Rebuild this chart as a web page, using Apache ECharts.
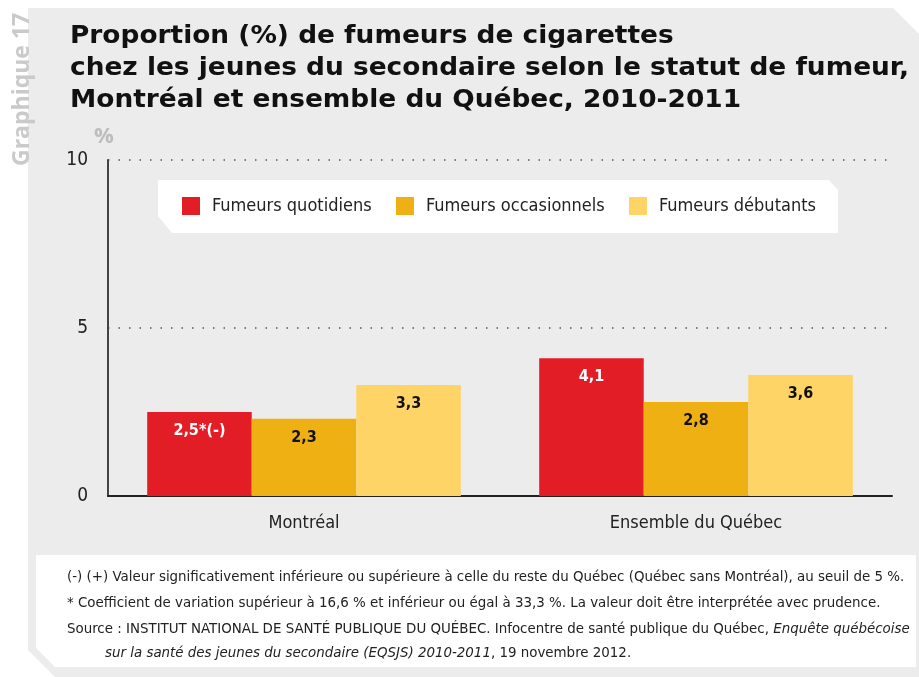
<!DOCTYPE html>
<html lang="fr">
<head>
    <meta charset="UTF-8">
    <title>Graphique 17</title>
    <script src="https://cdn.jsdelivr.net/npm/echarts@6/dist/echarts.min.js"></script>
    <style>
        html, body { margin: 0; padding: 0; background: #fff; }
        #chart { width: 919px; height: 677px; }
    </style>
</head>
<body>
<div id="chart"></div>
<script type="text/javascript">
	// données
	var categories = ['Montréal', 'Ensemble du Québec'];
	var seriesNames = ['Fumeurs quotidiens', 'Fumeurs occasionnels', 'Fumeurs débutants'];
	var quotidiens = [2.5, 4.1];
	var occasionnels = [2.3, 2.8];
	var debutants = [3.3, 3.6];
	var quotidiensNotes = ['*(-)', ''];
	var yTicks = [0, 5, 10];

	var condensed = "'Liberation Sans Narrow', 'DejaVu Sans Condensed', 'Roboto Condensed', sans-serif";
	var couleurs = ['#e31d25', '#eeb013', '#fed466'];
	var legendLeft = [182, 396, 629];

	var chart = echarts.init(document.getElementById('chart'));

	function fmt(v) {
		return v.toFixed(1).replace('.', ',');
	}

	function barSeries(i, data, notes, labelColor) {
		return {
			name: seriesNames[i],
			type: 'bar',
			data: data,
			barGap: '0%',
			barCategoryGap: '20%',
			itemStyle: {color: couleurs[i]},
			label: {
				show: true,
				position: 'insideTop',
				distance: 11,
				color: labelColor,
				fontFamily: "'DejaVu Sans Condensed', 'Liberation Sans Narrow', sans-serif",
				fontWeight: 'bold',
				fontSize: 16,
				formatter: function (p) {
					return fmt(p.value) + (notes ? notes[p.dataIndex] : '');
				}
			}
		};
	}

	// une légende par série pour placer chaque élément
	var legends = [];
	for (var k = 0; k < seriesNames.length; k++) {
		legends.push({
			data: [seriesNames[k]],
			left: legendLeft[k],
			top: 197,
			padding: 0,
			icon: 'rect',
			itemWidth: 18,
			itemHeight: 18,
			selectedMode: false,
			textStyle: {fontFamily: condensed, fontSize: 18, color: '#222', padding: [0, 0, 0, 7]}
		});
	}

	var footStyle = {fontFamily: condensed, fontSize: 14.9, fill: '#222'};
	var italique = {i: {fontStyle: 'italic', fontFamily: condensed, fontSize: 14.9, fill: '#222'}};

	var option = {
		backgroundColor: '#fff',
		animation: false,
		color: couleurs,
		grid: {left: 108, top: 160, right: 27, bottom: 181},
		legend: legends,
		xAxis: {
			type: 'category',
			data: categories,
			axisLine: {lineStyle: {color: '#222', width: 2}},
			axisTick: {show: false},
			axisLabel: {fontFamily: condensed, fontSize: 18, color: '#222', margin: 18}
		},
		yAxis: {
			type: 'value',
			min: yTicks[0],
			max: yTicks[yTicks.length - 1],
			interval: 5,
			axisLine: {show: true, lineStyle: {color: '#444', width: 2}},
			axisTick: {show: false},
			axisLabel: {fontFamily: condensed, fontSize: 19, color: '#222', margin: 20},
			splitLine: {lineStyle: {color: '#555', type: [1.5, 9], width: 1.5}}
		},
		graphic: [
			// fond gris
			{
				type: 'polygon', z: -10, silent: true,
				shape: {points: [[28, 8], [893, 8], [919, 34], [919, 677], [55, 677], [28, 650]]},
				style: {fill: '#ececec'}
			},
			// boîte des notes
			{
				type: 'polygon', z: -9, silent: true,
				shape: {points: [[36, 555], [916, 555], [916, 667], [55, 667], [36, 648]]},
				style: {fill: '#fff'}
			},
			// boîte de légende
			{
				type: 'polygon', z: -9, silent: true,
				shape: {points: [[158, 180], [829, 180], [838, 190], [838, 233], [172, 233], [158, 216]]},
				style: {fill: '#fff'}
			},
			{
				type: 'text', silent: true, rotation: Math.PI / 2,
				x: 11, y: 166,
				style: {text: 'Graphique 17', fontFamily: "'Open Sans', sans-serif", fontWeight: 'bold', fontSize: 23, fill: '#cacaca'}
			},
			{
				type: 'text', silent: true, x: 70, y: 21, scaleX: 1.1,
				style: {
					text: 'Proportion (%) de fumeurs de cigarettes\nchez les jeunes du secondaire selon le statut de fumeur,\nMontréal et ensemble du Québec, 2010-2011',
					fontFamily: "'DejaVu Sans', sans-serif", fontWeight: 'bold', fontSize: 24, lineHeight: 32, fill: '#111'
				}
			},
			{
				type: 'text', left: 94, top: 126, silent: true,
				style: {text: '%', fontFamily: "'Open Sans', sans-serif", fontWeight: 'bold', fontSize: 22, fill: '#bdbdbd'}
			},
			{
				type: 'text', left: 67, top: 570, silent: true,
				style: Object.assign({text: '(-) (+) Valeur significativement inférieure ou supérieure à celle du reste du Québec (Québec sans Montréal), au seuil de 5 %.'}, footStyle)
			},
			{
				type: 'text', left: 67, top: 596, silent: true,
				style: Object.assign({text: '* Coefficient de variation supérieur à 16,6 % et inférieur ou égal à 33,3 %. La valeur doit être interprétée avec prudence.'}, footStyle)
			},
			{
				type: 'text', left: 67, top: 622, silent: true,
				style: Object.assign({
					text: 'Source : INSTITUT NATIONAL DE SANTÉ PUBLIQUE DU QUÉBEC. Infocentre de santé publique du Québec, {i|Enquête québécoise}',
					rich: italique
				}, footStyle)
			},
			{
				type: 'text', left: 105, top: 646, silent: true,
				style: Object.assign({
					text: '{i|sur la santé des jeunes du secondaire (EQSJS) 2010-2011}, 19 novembre 2012.',
					rich: italique
				}, footStyle)
			}
		],
		series: [
			barSeries(0, quotidiens, quotidiensNotes, '#fff'),
			barSeries(1, occasionnels, null, '#111'),
			barSeries(2, debutants, null, '#111')
		]
	};
	chart.setOption(option);
</script>
</body>
</html>
